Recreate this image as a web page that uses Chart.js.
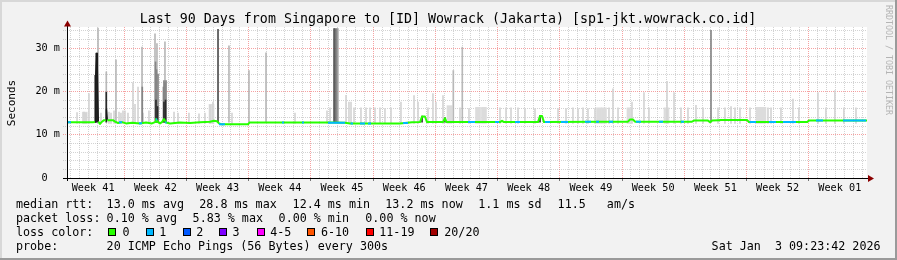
<!DOCTYPE html>
<html><head><meta charset="utf-8">
<script src="https://cdn.jsdelivr.net/npm/chart.js@4"></script>
<style>html,body{margin:0;padding:0;background:#f2f2f2;overflow:hidden}canvas{display:block}</style>
</head><body>
<canvas id="c" width="897" height="260"></canvas>
<script>
// ---------- data (x in days since graph start, y in ms) ----------
const weekLabels = ["Week 41","Week 42","Week 43","Week 44","Week 45","Week 46","Week 47","Week 48","Week 49","Week 50","Week 51","Week 52","Week 01"];
const weekCenters = [2.94, 9.94, 16.94, 23.94, 30.94, 37.94, 44.94, 51.94, 58.94, 65.94, 72.94, 79.94, 86.94];
const weekStarts = [6.44, 13.44, 20.44, 27.44, 34.44, 41.44, 48.44, 55.44, 62.44, 69.44, 76.44, 83.44];
const yLabelValues = [0, 10, 20, 30];
const yLabelTexts = ["0  ", "10 m", "20 m", "30 m"];

// median rtt (day, ms)
const medianRtt = [
 [0.00,12.85],[2.92,12.85],[3.15,12.9],[3.23,23.7],[3.37,28.8],[3.52,13.0],[3.71,12.5],[3.94,13.0],
 [4.16,13.35],[4.39,13.35],[4.44,15.8],[4.53,13.35],[5.17,13.35],[5.40,13.0],[5.74,12.7],[6.19,12.9],
 [6.64,12.6],[7.31,12.75],[8.21,12.6],[8.89,12.8],[9.56,12.6],[9.90,12.9],[10.01,13.6],[10.24,12.9],
 [10.46,12.6],[10.69,12.9],[10.91,13.6],[11.14,12.8],[11.59,12.6],[12.71,12.8],[13.84,12.7],[14.96,12.85],
 [16.09,13.0],[16.54,13.2],[16.87,13.1],[17.10,12.6],[17.32,12.4],[20.36,12.4],[20.53,12.8],[26.21,12.8],
 [29.81,12.8],[31.28,12.75],[31.84,12.6],[37.46,12.6],[38.81,12.85],[39.71,12.9],[39.94,14.2],[40.27,14.2],
 [40.50,12.9],[42.30,12.9],[42.52,13.8],[42.69,12.9],[48.71,12.9],[48.94,13.2],[49.16,12.9],[52.99,12.9],
 [53.21,14.3],[53.44,14.3],[53.66,12.9],[59.96,13.0],[63.11,13.0],[63.34,13.5],[63.67,13.5],[63.90,13.0],
 [70.31,13.0],[70.54,13.25],[72.11,13.25],[72.34,12.9],[72.56,13.25],[73.35,13.3],[73.46,13.4],[76.50,13.4],
 [76.72,12.9],[83.25,12.9],[83.47,13.25],[90.00,13.25]
];
// stretches where 1 of 20 pings was lost: [startDay, endDay, ms]
const loss1Segments = [
 [0.11,0.45,12.85],[3.17,3.25,23.7],[5.85,6.19,12.85],[8.10,8.44,12.65],[10.00,10.15,13.5],[11.05,11.20,12.8],
 [17.10,17.77,12.4],[24.19,24.41,12.8],[26.44,26.66,12.8],[29.36,31.28,12.77],[31.90,32.17,12.6],[32.96,33.52,12.6],
 [33.86,34.20,12.6],[37.80,38.36,12.7],[45.11,45.90,12.9],[48.15,48.60,12.9],[50.40,50.96,12.9],[53.77,54.34,12.9],
 [55.57,56.36,12.95],[58.27,58.95,12.97],[59.51,59.85,13.0],[60.97,61.42,13.0],[64.01,64.57,13.0],[66.60,67.05,13.0],
 [69.07,69.41,13.0],[76.80,77.51,12.9],[78.97,79.76,12.9],[80.55,82.01,12.9],[84.26,85.05,13.25],[87.30,89.89,13.25]
];
// smoke: light outliers (day, max ms)
const smokeLight = [
 [1.13,15.1],[1.91,15.2],[2.14,15.0],[2.47,19.5],[3.82,15.0],[4.72,15.2],[4.95,15.0],[5.29,15.5],[5.85,15.2],[6.07,15.0],
 [6.30,15.5],[6.52,15.5],[6.86,15.0],[7.42,22.0],[7.65,17.0],[7.99,21.0],[8.55,15.0],[9.22,15.5],[12.04,15.2],[12.49,15.0],
 [13.72,15.0],[14.85,14.8],[15.52,15.0],[16.09,16.8],[16.42,17.5],[18.56,15.0],[25.65,15.0],[29.25,15.5],[29.59,16.2],
 [31.39,19.1],[31.72,17.5],[31.95,17.5],[32.29,16.2],[33.07,16.2],[33.64,16.2],[34.09,16.2],[34.65,16.2],[35.21,16.2],
 [35.77,16.0],[36.45,16.2],[37.57,17.5],[39.04,19.0],[39.49,17.5],[40.61,16.2],[41.17,19.5],[41.51,17.5],[42.30,19.0],
 [44.21,16.2],[45.22,16.0],[48.71,16.2],[49.39,16.2],[49.95,16.2],[50.74,16.2],[51.52,16.0],[52.65,16.0],[55.24,16.0],
 [56.14,16.0],[56.92,16.2],[57.49,16.0],[58.05,16.2],[58.61,16.0],[59.40,16.0],[60.97,16.2],[61.42,20.6],[61.99,16.2],
 [63.56,17.5],[64.91,19.7],[65.47,16.2],[67.50,22.3],[68.29,19.7],[69.07,16.2],[69.86,16.2],[70.76,16.8],[71.55,16.2],
 [73.24,16.2],[74.02,16.2],[74.70,16.5],[75.15,16.2],[75.71,16.2],[76.84,16.2],[78.86,16.2],[79.20,16.2],[80.32,16.2],
 [81.67,18.2],[82.34,16.2],[84.48,19.7],[85.38,16.2],[86.39,20.2],[87.40,16.2],[88.76,16.2]
];
// smoke: dense light stretches (day, max ms)
const smokeBlocks = [
 [2.00,15.2],[16.26,17.0],[43.03,16.7],[46.24,16.3],[46.91,16.3],[59.85,16.2],[60.41,16.2],[63.28,16.2],
 [67.44,16.2],[77.79,16.3],[78.35,16.3]
];
// smoke: tall spikes, four shades (day, min ms, max ms)
const smokeGray = [
 [3.49,12.9,34.6],[4.42,12.9,24.5],[5.51,12.9,27.3],[8.44,12.9,30.2],[9.90,12.9,33.3],[10.12,12.9,31.0],
 [11.02,12.9,31.4],[16.99,12.9,34.3],[18.22,12.9,30.5],[20.47,12.9,24.8],[22.39,12.9,28.9],[30.49,12.9,34.5],
 [43.46,12.9,24.8],[44.47,12.9,30.2]
];
const smokeMid = [
 [8.47,12.9,21.0],[9.96,12.9,26.8],[10.07,12.9,25.0],[10.24,12.9,24.0],[10.85,12.9,21.0],[10.91,12.9,22.5],
 [11.02,12.9,22.0],[11.14,12.9,22.5],[30.35,12.9,34.5],[72.45,12.9,34.1]
];
const smokeDeep = [
 [16.99,12.9,34.3],[30.04,12.9,34.5],[30.15,12.9,34.5]
];
const smokeDark = [
 [3.18,12.9,23.7],[3.29,12.9,28.8],[3.40,12.9,28.8],[4.42,12.9,19.8],[10.01,12.9,18.0],[10.18,12.9,16.5],
 [10.91,12.9,17.5],[11.08,12.9,18.0],[39.94,12.9,14.3],[42.52,12.9,13.9],[53.21,12.9,14.4]
];

// ---------- chart ----------
const MONO = "'DejaVu Sans Mono', monospace";
const near = (arr, v) => arr.some(a => Math.abs(a - v) < 1e-6);
const minorX = [];
for (let k = -6; k < 84; k++) { const v = +(weekStarts[0] + k).toFixed(2); if (v > 0 && v < 90) minorX.push(v); }
const xTicks = minorX.concat(weekCenters).sort((a, b) => a - b);
const yTicks = []; for (let v = 0; v <= 34; v += 2) yTicks.push(v);
const GRID = 'rgba(150,150,150,0.42)', MGRID = 'rgba(240,100,100,0.6)';

const bars = (arr, color, thick, order) => ({
  type: 'bar', data: arr.map(p => ({x: p[0], y: p.length === 3 ? [p[1], p[2]] : [12.6, p[1]]})),
  backgroundColor: color, borderWidth: 0, barThickness: thick, grouped: false, order: order
});
const lossData = [];
loss1Segments.forEach(s => { lossData.push({x: s[0], y: s[2]}, {x: s[1], y: s[2]}, {x: s[1], y: null}); });
const steep = c => Math.abs(c.p1.parsed.y - c.p0.parsed.y) > 2;

const rrdPlugin = {
  id: 'rrd',
  beforeDraw(chart) {
    const {ctx, chartArea: a} = chart;
    ctx.save();
    ctx.fillStyle = '#f2f2f2'; ctx.fillRect(0, 0, 897, 260);
    ctx.fillStyle = '#d8d8d8'; ctx.fillRect(0, 0, 897, 2); ctx.fillRect(0, 0, 2, 260);
    ctx.fillStyle = '#9a9a9a'; ctx.fillRect(0, 258, 897, 2); ctx.fillRect(895, 0, 2, 260);
    ctx.fillStyle = '#ffffff'; ctx.fillRect(a.left, a.top, a.right - a.left, a.bottom - a.top);
    ctx.restore();
  },
  afterDatasetsDraw(chart) {
    const {ctx, chartArea: a} = chart;
    const x0 = Math.round(a.left) + 0.5, y0 = Math.round(a.bottom) + 0.5;
    ctx.save();
    ctx.strokeStyle = '#000'; ctx.lineWidth = 1;
    ctx.beginPath(); ctx.moveTo(a.left - 4, y0); ctx.lineTo(a.right + 2, y0); ctx.stroke();
    ctx.beginPath(); ctx.moveTo(x0, a.bottom + 3); ctx.lineTo(x0, a.top - 2); ctx.stroke();
    ctx.fillStyle = '#8b0000';
    ctx.beginPath(); ctx.moveTo(x0, a.top - 6.5); ctx.lineTo(x0 - 3.5, a.top - 0.5); ctx.lineTo(x0 + 3.5, a.top - 0.5); ctx.closePath(); ctx.fill();
    ctx.beginPath(); ctx.moveTo(a.right + 7, y0); ctx.lineTo(a.right + 1, y0 - 3.5); ctx.lineTo(a.right + 1, y0 + 3.5); ctx.closePath(); ctx.fill();
    ctx.restore();
  },
  afterDraw(chart) {
    const ctx = chart.ctx;
    ctx.save();
    ctx.fillStyle = '#000';
    ctx.textBaseline = 'alphabetic';
    ctx.font = '13.3px ' + MONO; ctx.textAlign = 'center';
    ctx.fillText('Last 90 Days from Singapore to [ID] Wowrack (Jakarta) [sp1-jkt.wowrack.co.id]', 448, 23);
    // y unit label
    ctx.save(); ctx.translate(15, 103); ctx.rotate(-Math.PI / 2);
    ctx.font = '11px ' + MONO; ctx.textAlign = 'center'; ctx.fillText('Seconds', 0, 0); ctx.restore();
    // watermark
    ctx.save(); ctx.translate(885.5, 5); ctx.rotate(Math.PI / 2);
    ctx.font = '8.3px ' + MONO; ctx.textAlign = 'left'; ctx.fillStyle = '#b4b4b4';
    ctx.fillText('RRDTOOL / TOBI OETIKER', 0, 0); ctx.restore();
    // legend
    ctx.font = '11.7px ' + MONO; ctx.textAlign = 'left';
    const rows = [
      [208.3, [[16,'median rtt:'],[106.6,'13.0 ms avg'],[199.3,'28.8 ms max'],[292.6,'12.4 ms min'],[385.3,'13.2 ms now'],[478.3,'1.1 ms sd'],[557.6,'11.5   am/s']]],
      [222.3, [[16,'packet loss:'],[106.6,'0.10 % avg'],[192.6,'5.83 % max'],[278.6,'0.00 % min'],[365.3,'0.00 % now']]],
      [236.3, [[16,'loss color:']]],
      [250.3, [[16,'probe:'],[106.6,'20 ICMP Echo Pings (56 Bytes) every 300s']]]
    ];
    rows.forEach(r => r[1].forEach(t => ctx.fillText(t[1], t[0], r[0])));
    const lossKeys = [['#26ff00','0',108.3,122.6],['#00b8ff','1',145.7,159.3],['#0059ff','2',182.7,196.3],['#7e00ff','3',219.3,232.6],
                      ['#ff00ff','4-5',256.7,270.3],['#ff5500','6-10',306.7,321],['#ff0000','11-19',366,379.3],['#a10000','20/20',430,444.3]];
    lossKeys.forEach(k => {
      ctx.fillStyle = k[0]; ctx.fillRect(Math.round(k[2]), 228, 8, 8);
      ctx.strokeStyle = '#000'; ctx.lineWidth = 1; ctx.strokeRect(Math.round(k[2]) + 0.5, 228.5, 7, 7);
      ctx.fillStyle = '#000'; ctx.fillText(k[1], k[3], 236.3);
    });
    ctx.textAlign = 'right'; ctx.fillText('Sat Jan  3 09:23:42 2026', 880.5, 250.3);
    ctx.restore();
  }
};

new Chart(document.getElementById('c'), {
  type: 'bar',
  data: { datasets: [
    {type: 'line', data: lossData, borderColor: '#00b8ff', borderWidth: 2, pointRadius: 0, spanGaps: false, order: 0, borderCapStyle: 'butt'},
    {type: 'line', data: medianRtt.map(p => ({x: p[0], y: p[1]})), borderColor: '#26ff00', borderWidth: 2, pointRadius: 0,
     tension: 0, borderJoinStyle: 'round', order: 1,
     segment: {borderColor: c => steep(c) ? '#1a1a1a' : undefined, borderWidth: c => steep(c) ? 1.5 : undefined}},
    bars(smokeDark, '#2a2a2a', 1, 2),
    bars(smokeDeep, '#5a5a5a', 1, 3),
    bars(smokeMid, '#858585', 1, 4),
    bars(smokeGray, '#b8b8b8', 1, 5),
    bars(smokeLight, '#d4d4d4', 1, 6),
    bars(smokeBlocks, '#dcdcdc', 5, 7)
  ]},
  options: {
    responsive: false, animation: false, devicePixelRatio: 1,
    layout: {padding: {top: 27, right: 30, left: 0, bottom: 0}},
    plugins: {legend: {display: false}, tooltip: {enabled: false}, title: {display: false}},
    scales: {
      x: {
        type: 'linear', min: 0, max: 90, offset: false,
        afterFit(s) { s.height = 82; },
        afterBuildTicks(s) { s.ticks = xTicks.map(v => ({value: v})); },
        grid: {
          offset: false, lineWidth: 1, drawTicks: true, tickLength: 3,
          color: c => near(weekStarts, c.tick.value) ? MGRID : (near(weekCenters, c.tick.value) ? 'rgba(0,0,0,0)' : GRID),
          tickColor: c => near(weekStarts, c.tick.value) ? '#777' : 'rgba(0,0,0,0)'
        },
        border: {display: false, dash: [1, 1]},
        ticks: {
          autoSkip: false, maxRotation: 0, minRotation: 0, padding: 1, color: '#000',
          font: {family: MONO, size: 10.2},
          callback: v => { const i = weekCenters.findIndex(w => Math.abs(w - v) < 1e-6); return i >= 0 ? weekLabels[i] : ''; }
        }
      },
      y: {
        type: 'linear', min: 0, max: 34.85,
        afterFit(s) { s.width = 67; },
        afterBuildTicks(s) { s.ticks = yTicks.map(v => ({value: v})); },
        grid: {
          lineWidth: 1, drawTicks: true, tickLength: 4,
          color: c => c.tick.value === 0 ? 'rgba(0,0,0,0)' : (c.tick.value % 10 === 0 ? MGRID : GRID),
          tickColor: c => c.tick.value % 10 === 0 ? MGRID : GRID,
          tickBorderDash: [1, 1]
        },
        border: {display: false, dash: [1, 1]},
        ticks: {
          autoSkip: false, padding: 3, color: '#000', font: {family: MONO, size: 10.2},
          callback: v => { const i = yLabelValues.indexOf(v); return i >= 0 ? yLabelTexts[i] : ''; }
        }
      }
    }
  },
  plugins: [rrdPlugin]
});
</script>
</body></html>
